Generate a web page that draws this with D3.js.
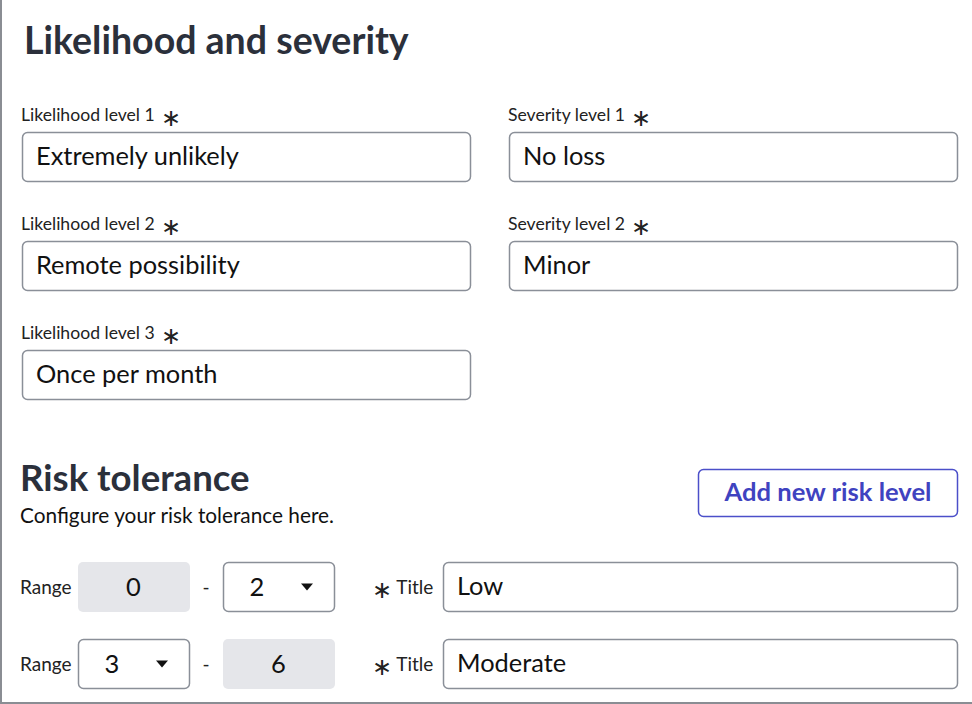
<!DOCTYPE html>
<html>
<head>
<meta charset="utf-8">
<script src="https://cdn.jsdelivr.net/npm/d3@7"></script>
<style>
  body { margin: 0; background: #fff; }
  svg { display: block; font-family: Lato, "Open Sans", sans-serif; }
</style>
</head>
<body>
<svg id="form" width="972" height="704"></svg>
<script>
// form data
var likelihoodLevels = ["Extremely unlikely", "Remote possibility", "Once per month"];
var severityLevels = ["No loss", "Minor"];
var rangeStarts = [0, 3];
var rangeEnds = [2, 6];
var startEditable = [false, true];
var endEditable = [true, false];
var riskTitles = ["Low", "Moderate"];

var svg = d3.select("#form");
var ink = "#2b303b";

// page frame: left and bottom edge
svg.append("line").attr("x1", 1).attr("x2", 1).attr("y1", 0).attr("y2", 703).attr("stroke", "#8a8d93").attr("stroke-width", 2);
svg.append("line").attr("x1", 0).attr("x2", 972).attr("y1", 703).attr("y2", 703).attr("stroke", "#8a8d93").attr("stroke-width", 2);

svg.append("text").attr("x", 24).attr("y", 54).attr("font-size", 37.5).attr("font-weight", 700)
  .attr("fill", ink).text("Likelihood and severity");

// rows of the level inputs
var levelRow = d3.scaleLinear().domain([0, 1]).range([132, 241]);

function textField(g, x, y, w, h, value) {
  g.append("rect").attr("x", x + 0.5).attr("y", y + 0.5).attr("width", w).attr("height", h)
    .attr("rx", 5).attr("fill", "#fff").attr("stroke", "#8a8f98").attr("stroke-width", 1.5);
  g.append("text").attr("x", x + 14).attr("y", y + h / 2 + 8).attr("font-size", 25.4)
    .attr("fill", "#111").text(value);
}

function star(t) {
  t.append("tspan").attr("font-size", 24).attr("dy", 5).text(" \u2217");
}

function levelColumn(values, name, x) {
  values.forEach(function(v, i) {
    var y = levelRow(i);
    var t = svg.append("text").attr("x", x - 1).attr("y", y - 11).attr("font-size", 17.6)
      .attr("fill", "#222").text(name + " level " + (i + 1));
    star(t);
    textField(svg, x, y, 448, 49, v);
  });
}
levelColumn(likelihoodLevels, "Likelihood", 22);
levelColumn(severityLevels, "Severity", 509);

// risk tolerance section
svg.append("text").attr("x", 20).attr("y", 491).attr("font-size", 36.6).attr("font-weight", 700)
  .attr("fill", ink).text("Risk tolerance");
svg.append("text").attr("x", 20).attr("y", 523).attr("font-size", 20.8)
  .attr("fill", "#111").text("Configure your risk tolerance here.");

svg.append("rect").attr("x", 698.5).attr("y", 469.5).attr("width", 259).attr("height", 47)
  .attr("rx", 5).attr("fill", "#fff").attr("stroke", "#4b4fc9").attr("stroke-width", 1.5);
svg.append("text").attr("x", 828).attr("y", 501).attr("text-anchor", "middle").attr("font-size", 25.6)
  .attr("font-weight", 700).attr("fill", "#3f43c0").text("Add new risk level");

var rangeRow = d3.scaleLinear().domain([0, 1]).range([562, 639]);

function rangeBox(x, y, value, editable) {
  var w = 111, h = 49;
  if (editable) {
    svg.append("rect").attr("x", x + 0.5).attr("y", y + 0.5).attr("width", w).attr("height", h)
      .attr("rx", 5).attr("fill", "#fff").attr("stroke", "#8a8f98").attr("stroke-width", 1.5);
    svg.append("text").attr("x", x + 34).attr("y", y + h / 2 + 9).attr("text-anchor", "middle")
      .attr("font-size", 25.5).attr("fill", "#111").text(value);
    var ax = x + 84, ay = y + h / 2 - 3;
    svg.append("path").attr("d", "M" + (ax - 6) + "," + ay + "L" + (ax + 6) + "," + ay + "L" + ax + "," + (ay + 7) + "Z")
      .attr("fill", "#111");
  } else {
    svg.append("rect").attr("x", x).attr("y", y).attr("width", w + 1).attr("height", h + 1)
      .attr("rx", 5).attr("fill", "#e5e6ea");
    svg.append("text").attr("x", x + w / 2).attr("y", y + h / 2 + 9).attr("text-anchor", "middle")
      .attr("font-size", 25.5).attr("fill", "#111").text(value);
  }
}

rangeStarts.forEach(function(s, i) {
  var y = rangeRow(i), cy = y + 25;
  svg.append("text").attr("x", 20).attr("y", cy + 7).attr("font-size", 19).attr("fill", "#222").text("Range");
  rangeBox(78, y, s, startEditable[i]);
  svg.append("text").attr("x", 206).attr("y", cy + 7).attr("text-anchor", "middle").attr("font-size", 19)
    .attr("fill", "#222").text("-");
  rangeBox(223, y, rangeEnds[i], endEditable[i]);
  var t = svg.append("text").attr("x", 372).attr("y", cy + 7).attr("font-size", 19).attr("fill", "#222");
  t.append("tspan").attr("font-size", 24).attr("dy", 4).text("\u2217");
  t.append("tspan").attr("dy", -4).text(" Title");
  textField(svg, 443, y, 514, 49, riskTitles[i]);
});
</script>
</body>
</html>
